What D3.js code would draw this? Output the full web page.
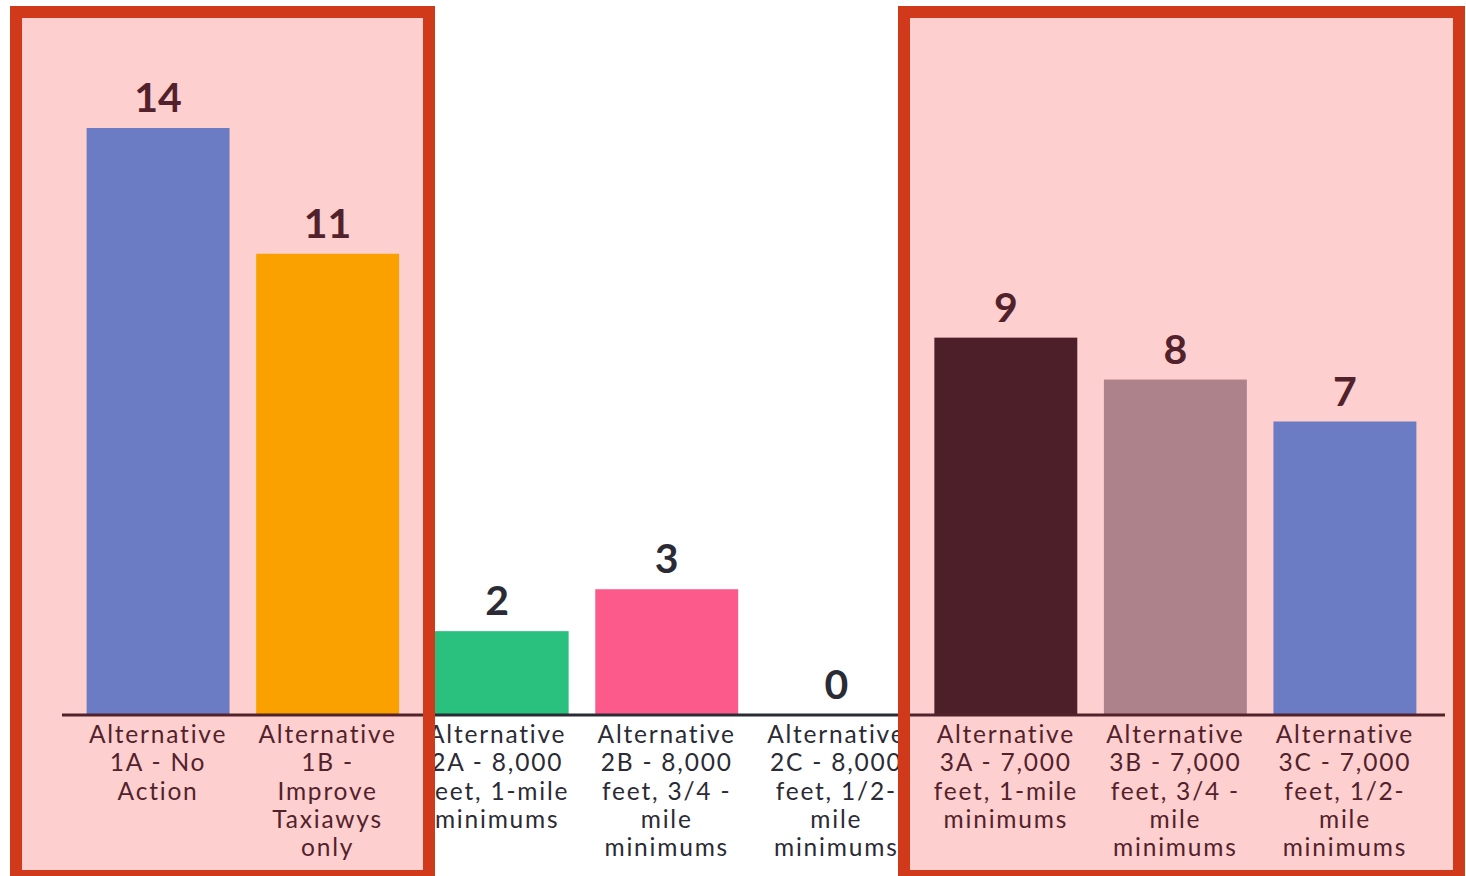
<!DOCTYPE html>
<html>
<head>
<meta charset="utf-8">
<script src="https://cdn.jsdelivr.net/npm/d3@7"></script>
<style>
  html, body { margin: 0; padding: 0; background: #ffffff; }
  svg { display: block; }
  text { font-family: "Lato", "Noto Sans", sans-serif; }
</style>
</head>
<body>
<svg id="chart" width="1466" height="876"></svg>
<script>
// ---- data ----
const categories = ["1A", "1B", "2A", "2B", "2C", "3A", "3B", "3C"];
const values = [14, 11, 2, 3, 0, 9, 8, 7];
const barColors = ["#4b99f2", "#fbc700", "#2ac17e", "#fd5a8c", "#9ca0ac", "#262833", "#9ca0ac", "#4b99f2"];
const labelLines = [
  ["Alternative", "1A - No", "Action"],
  ["Alternative", "1B -", "Improve", "Taxiawys", "only"],
  ["Alternative", "2A - 8,000", "feet, 1-mile", "minimums"],
  ["Alternative", "2B - 8,000", "feet, 3/4 -", "mile", "minimums"],
  ["Alternative", "2C - 8,000", "feet, 1/2-", "mile", "minimums"],
  ["Alternative", "3A - 7,000", "feet, 1-mile", "minimums"],
  ["Alternative", "3B - 7,000", "feet, 3/4 -", "mile", "minimums"],
  ["Alternative", "3C - 7,000", "feet, 1/2-", "mile", "minimums"]
];

// ---- layout ----
const svg = d3.select("#chart");
const baseY = 715;
const x = d3.scaleBand().domain(categories).range([60, 1443]).paddingInner(0.157).paddingOuter(0.157);
const y = d3.scaleLinear().domain([0, 14]).range([baseY, 128]);
const textColor = "#2b2b35";

const chart = svg.append("g");

chart.selectAll("rect.bar")
  .data(categories)
  .join("rect")
  .attr("class", "bar")
  .attr("x", d => x(d))
  .attr("width", x.bandwidth())
  .attr("y", (d, i) => y(values[i]))
  .attr("height", (d, i) => y(0) - y(values[i]))
  .attr("fill", (d, i) => barColors[i]);

chart.append("line")
  .attr("x1", 62).attr("x2", 1445)
  .attr("y1", baseY).attr("y2", baseY)
  .attr("stroke", textColor).attr("stroke-width", 3);

chart.selectAll("text.val")
  .data(categories)
  .join("text")
  .attr("class", "val")
  .attr("x", d => x(d) + x.bandwidth() / 2)
  .attr("y", (d, i) => y(values[i]) - 16)
  .attr("text-anchor", "middle")
  .attr("font-size", 41)
  .attr("font-weight", 700)
  .attr("fill", textColor)
  .text((d, i) => values[i]);

const lab = chart.selectAll("text.cat")
  .data(categories)
  .join("text")
  .attr("class", "cat")
  .attr("text-anchor", "middle")
  .attr("font-size", 24.5)
  .attr("letter-spacing", 1.8)
  .attr("fill", textColor);
lab.each(function(d, i) {
  const t = d3.select(this);
  labelLines[i].forEach((ln, j) => {
    t.append("tspan")
      .attr("x", x(d) + x.bandwidth() / 2)
      .attr("y", 743 + j * 28.3)
      .text(ln);
  });
});

// ---- highlight boxes ----
const boxes = [
  { x0: 16, x1: 429 },
  { x0: 904, x1: 1459 }
];
svg.selectAll("rect.overlay")
  .data(boxes)
  .join("rect")
  .attr("class", "overlay")
  .attr("x", d => d.x0).attr("y", 12)
  .attr("width", d => d.x1 - d.x0).attr("height", 864)
  .attr("fill", "rgba(250,0,0,0.19)");
svg.selectAll("rect.border")
  .data(boxes)
  .join("rect")
  .attr("class", "border")
  .attr("x", d => d.x0).attr("y", 12)
  .attr("width", d => d.x1 - d.x0).attr("height", 864)
  .attr("fill", "none")
  .attr("stroke", "#d0391a")
  .attr("stroke-width", 12);
</script>
</body>
</html>
